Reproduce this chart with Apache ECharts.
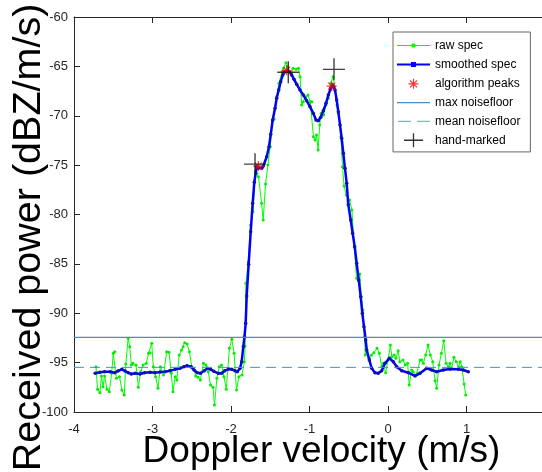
<!DOCTYPE html>
<html><head><meta charset="utf-8">
<script src="https://cdn.jsdelivr.net/npm/echarts/dist/echarts.min.js"></script>
<style>html,body{margin:0;padding:0;background:#fff}#chart{width:542px;height:472px}</style>
</head><body><div id="chart"></div>
<script>
// ---- data ----
const xMin = -4, xMax = 2, xStep = 1;
const yMin = -100, yMax = -60, yStep = 5;

const rawVelocity = [-3.72,-3.70,-3.67,-3.65,-3.63,-3.61,-3.58,-3.55,-3.52,-3.50,-3.48,-3.46,-3.42,-3.39,-3.36,-3.34,-3.31,-3.29,-3.27,-3.25,-3.21,-3.18,-3.15,-3.12,-3.08,-3.05,-3.03,-3.01,-2.99,-2.96,-2.93,-2.90,-2.86,-2.82,-2.79,-2.76,-2.74,-2.71,-2.69,-2.66,-2.63,-2.61,-2.59,-2.56,-2.53,-2.50,-2.47,-2.45,-2.42,-2.39,-2.35,-2.32,-2.29,-2.26,-2.23,-2.21,-2.18,-2.15,-2.12,-2.09,-2.06,-2.02,-1.99,-1.96,-1.93,-1.90,-1.86,-1.83,-1.82,-1.81,-1.78,-1.75,-1.72,-1.69,-1.67,-1.65,-1.61,-1.59,-1.56,-1.53,-1.50,-1.47,-1.45,-1.42,-1.39,-1.35,-1.33,-1.30,-1.28,-1.26,-1.23,-1.21,-1.17,-1.14,-1.12,-1.10,-1.08,-1.05,-1.02,-0.99,-0.97,-0.95,-0.93,-0.91,-0.89,-0.87,-0.85,-0.82,-0.79,-0.76,-0.73,-0.70,-0.68,-0.65,-0.63,-0.60,-0.58,-0.56,-0.53,-0.49,-0.46,-0.43,-0.40,-0.38,-0.36,-0.34,-0.32,-0.30,-0.29,-0.27,-0.24,-0.21,-0.18,-0.14,-0.11,-0.08,-0.06,-0.03,0.00,0.03,0.05,0.08,0.10,0.13,0.15,0.19,0.22,0.25,0.27,0.30,0.32,0.36,0.38,0.41,0.43,0.45,0.48,0.51,0.54,0.57,0.60,0.62,0.65,0.68,0.71,0.74,0.77,0.79,0.81,0.84,0.87,0.90,0.92,0.94,0.97,0.99];
const rawPower = [-95.41,-97.70,-98.05,-96.35,-97.44,-96.35,-97.70,-97.94,-96.08,-94.06,-93.89,-96.59,-96.42,-97.77,-98.28,-95.14,-92.54,-93.39,-95.24,-95.07,-95.24,-97.50,-95.92,-95.24,-95.07,-94.06,-94.00,-93.04,-95.41,-96.42,-97.60,-95.41,-96.25,-93.89,-93.96,-96.08,-97.94,-96.42,-96.76,-94.23,-93.72,-93.39,-92.98,-93.11,-93.89,-95.41,-95.75,-96.35,-96.49,-96.76,-95.07,-95.24,-95.92,-97.27,-97.50,-99.29,-96.59,-95.41,-95.24,-96.42,-97.70,-93.55,-92.64,-94.06,-97.77,-96.42,-96.25,-94.91,-93.32,-86.97,-84.81,-81.06,-79.72,-75.67,-75.83,-76.17,-78.87,-80.56,-76.91,-74.99,-73.13,-70.50,-70.33,-68.07,-66.71,-65.54,-65.19,-64.63,-65.03,-65.54,-65.70,-65.19,-65.30,-65.19,-66.05,-68.91,-68.58,-68.07,-67.90,-68.58,-68.58,-72.12,-72.46,-71.95,-73.47,-70.94,-69.75,-69.92,-68.91,-68.23,-66.71,-66.05,-67.06,-68.91,-69.75,-72.12,-75.16,-77.11,-78.03,-78.53,-79.54,-83.26,-86.46,-86.63,-86.03,-88.32,-89.67,-92.37,-94.23,-93.89,-94.56,-94.23,-94.00,-93.55,-94.06,-95.41,-95.07,-96.02,-94.73,-93.22,-94.40,-94.23,-94.56,-93.79,-94.91,-94.73,-95.24,-95.07,-97.27,-95.75,-95.92,-96.25,-96.08,-94.73,-94.73,-95.07,-94.23,-93.22,-94.23,-94.91,-96.83,-97.60,-95.24,-94.06,-92.78,-95.07,-95.41,-95.07,-95.57,-94.46,-94.91,-95.41,-94.91,-95.41,-97.16,-98.28];

const smoothVelocity = [-3.73,-3.67,-3.61,-3.54,-3.48,-3.44,-3.39,-3.35,-3.31,-3.27,-3.22,-3.16,-3.10,-3.03,-2.97,-2.90,-2.84,-2.78,-2.71,-2.65,-2.60,-2.56,-2.51,-2.47,-2.43,-2.39,-2.34,-2.30,-2.26,-2.22,-2.16,-2.12,-2.08,-2.03,-1.99,-1.95,-1.92,-1.885,-1.864,-1.843,-1.828,-1.813,-1.800,-1.775,-1.749,-1.724,-1.703,-1.673,-1.652,-1.609,-1.589,-1.545,-1.516,-1.494,-1.469,-1.439,-1.418,-1.392,-1.367,-1.341,-1.312,-1.283,-1.257,-1.227,-1.197,-1.163,-1.121,-1.079,-1.036,-0.994,-0.952,-0.917,-0.888,-0.857,-0.824,-0.790,-0.760,-0.730,-0.704,-0.675,-0.654,-0.633,-0.611,-0.590,-0.569,-0.548,-0.526,-0.506,-0.475,-0.450,-0.424,-0.399,-0.373,-0.348,-0.327,-0.306,-0.284,-0.271,-0.238,-0.208,-0.166,-0.124,-0.080,-0.038,0.017,0.068,0.111,0.175,0.259,0.344,0.408,0.493,0.557,0.620,0.704,0.790,0.896,0.959,1.023];
const smoothPower = [-96.08,-95.98,-95.92,-95.92,-96.02,-95.85,-95.68,-95.85,-96.02,-96.15,-96.08,-96.15,-96.02,-95.98,-96.02,-95.95,-95.92,-95.82,-95.68,-95.58,-95.41,-95.31,-95.41,-95.75,-96.02,-96.08,-95.82,-95.58,-95.68,-95.88,-96.08,-96.08,-95.82,-95.65,-95.68,-95.82,-95.92,-95.58,-94.91,-93.39,-92.37,-91.02,-88.25,-85.04,-81.74,-78.87,-76.74,-75.16,-75.32,-75.32,-75.09,-74.15,-73.13,-71.88,-70.43,-69.25,-68.23,-67.39,-66.55,-65.87,-65.54,-65.44,-65.54,-65.87,-66.31,-66.82,-67.39,-67.90,-68.48,-69.08,-69.75,-70.43,-70.50,-70.16,-69.49,-68.74,-67.90,-67.22,-66.89,-67.39,-68.41,-69.59,-70.94,-72.28,-73.80,-75.32,-76.84,-79.00,-80.56,-81.90,-83.26,-84.94,-86.63,-88.32,-90.00,-91.36,-92.71,-93.72,-94.73,-95.57,-96.02,-96.08,-95.82,-95.07,-94.56,-94.91,-95.41,-95.82,-96.02,-96.35,-96.08,-95.57,-95.75,-95.92,-95.75,-95.65,-95.68,-95.75,-95.92];

const peakVelocity = [-1.652, -1.291, -0.717];
const peakPower = [-75.1, -65.4, -67.0];

const handVelocity = [-1.694, -1.270, -0.688];
const handPower = [-74.9, -65.6, -65.3];

const maxNoiseFloor = -92.44;
const meanNoiseFloor = -95.48;

const seriesNames = ['raw spec', 'smoothed spec', 'algorithm peaks', 'max noisefloor', 'mean noisefloor', 'hand-marked'];

// ---- build ----
const pairs = (xs, ys) => xs.map((x, i) => [x, ys[i]]);
const FONT = "'Liberation Sans', Arial, Helvetica, sans-serif";
const AX = '#262626';
const NOISE_COLOR = '#4a8fc7';
const STAR = 'path://M0,-10L0,10M-10,0L10,0M-7,-7L7,7M-7,7L7,-7';
const PLUS = 'path://M0,-10L0,10M-10,0L10,0';

const chart = echarts.init(document.getElementById('chart'), null, {renderer: 'canvas'});

const axisCommon = {
  type: 'value', min: xMin, max: xMax, interval: xStep,
  axisLine: {show: true, onZero: false, lineStyle: {color: AX, width: 1}},
  axisTick: {show: true, inside: true, length: 6, lineStyle: {color: AX, width: 1}},
  splitLine: {show: false}
};

const option = {
  animation: false,
  backgroundColor: '#fff',
  grid: {left: 74, top: 17, width: 471, height: 395, containLabel: false, outerBoundsMode: 'none'},
  xAxis: [
    Object.assign({}, axisCommon, {
      position: 'bottom',
      axisLabel: {show: true, fontSize: 13, color: AX, fontFamily: FONT, margin: 11},
      name: 'Doppler velocity (m/s)', nameLocation: 'middle', nameGap: 21, nameMoveOverlap: false,
      nameTextStyle: {fontSize: 37, color: '#000', fontFamily: FONT, padding: [0, 0, 0, 24]}
    }),
    Object.assign({}, axisCommon, {position: 'top', axisLabel: {show: false}})
  ],
  yAxis: [{
    type: 'value', min: yMin, max: yMax, interval: yStep,
    axisLine: {show: true, onZero: false, lineStyle: {color: AX, width: 1}},
    axisTick: {show: true, inside: true, length: 6, lineStyle: {color: AX, width: 1}},
    axisLabel: {show: true, fontSize: 13, color: AX, fontFamily: FONT, margin: 6},
    splitLine: {show: false},
    name: 'Received power (dBZ/m/s)', nameLocation: 'middle', nameGap: 25, nameMoveOverlap: false,
    nameTextStyle: {fontSize: 39.5, color: '#000', fontFamily: FONT, padding: [0, 46, 0, 0]}
  }],
  legend: {
    orient: 'vertical', left: 393, top: 32,
    itemWidth: 33, itemHeight: 14, itemGap: 3.6,
    padding: [6, 10, 4, 3],
    borderColor: '#666', borderWidth: 1, borderRadius: 0, backgroundColor: '#fff',
    selectedMode: false,
    textStyle: {fontSize: 12, lineHeight: 14, color: '#000', fontFamily: FONT},
    data: [
      {name: seriesNames[0], icon: 'path://M0,0L0,0M33,14L33,14M0,7L33,7M15,5.5L18,5.5L18,8.5L15,8.5Z',
        itemStyle: {color: '#00ff00', borderColor: '#00ff00', borderWidth: 1}},
      {name: seriesNames[1], icon: 'path://M0,0L0,0M33,14L33,14M0,7L33,7M15,5.5L18,5.5L18,8.5L15,8.5Z',
        itemStyle: {color: '#0000ff', borderColor: '#0000ff', borderWidth: 2}},
      {name: seriesNames[2], icon: 'path://M0,0L0,0M33,14L33,14M16.5,2L16.5,12M11.5,7L21.5,7M13,3.5L20,10.5M13,10.5L20,3.5',
        itemStyle: {color: '#ff0000', borderColor: '#ff0000', borderWidth: 1.2}},
      {name: seriesNames[3], icon: 'path://M0,0L0,0M33,14L33,14M0,7L33,7',
        itemStyle: {color: NOISE_COLOR, borderColor: NOISE_COLOR, borderWidth: 1.2}},
      {name: seriesNames[4], icon: 'path://M0,0L0,0M33,14L33,14M1,7L14,7M20,7L33,7',
        itemStyle: {color: '#7fb0de', borderColor: '#7fb0de', borderWidth: 1.2}},
      {name: seriesNames[5], icon: 'path://M0,0L0,0M33,14L33,14M16.5,0L16.5,14M7,7L26,7',
        itemStyle: {color: '#000', borderColor: '#000', borderWidth: 1.3}}
    ]
  },
  series: [
    {
      name: seriesNames[0], type: 'line', data: pairs(rawVelocity, rawPower),
      lineStyle: {color: '#00ff00', width: 1}, itemStyle: {color: '#00ee00'},
      symbol: 'circle', symbolSize: 3, showSymbol: true, z: 2
    },
    {
      name: seriesNames[1], type: 'line', data: pairs(smoothVelocity, smoothPower),
      lineStyle: {color: '#0000ff', width: 2.5}, itemStyle: {color: '#1010b0'},
      symbol: 'circle', symbolSize: 3.5, showSymbol: true, z: 3
    },
    {
      name: seriesNames[2], type: 'scatter', data: pairs(peakVelocity, peakPower),
      symbol: STAR, symbolSize: 10,
      itemStyle: {color: '#ff0000', borderColor: '#ff0000', borderWidth: 1.2}, z: 4
    },
    {
      name: seriesNames[3], type: 'line', data: [[xMin, maxNoiseFloor], [xMax, maxNoiseFloor]],
      lineStyle: {color: NOISE_COLOR, width: 1.2}, symbol: 'none', showSymbol: false, z: 5
    },
    {
      name: seriesNames[4], type: 'line', data: [[xMin, meanNoiseFloor], [xMax, meanNoiseFloor]],
      lineStyle: {color: NOISE_COLOR, width: 1, type: [10, 6]}, symbol: 'none', showSymbol: false, z: 5
    },
    {
      name: seriesNames[5], type: 'scatter', data: pairs(handVelocity, handPower),
      symbol: PLUS, symbolSize: 22,
      itemStyle: {color: '#111', borderColor: '#111', borderWidth: 1.4}, z: 6
    }
  ]
};
chart.setOption(option);
</script>
</body></html>
